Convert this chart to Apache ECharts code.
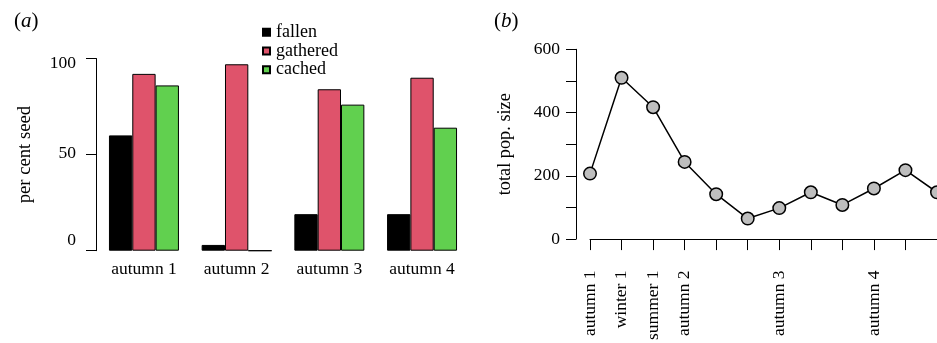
<!DOCTYPE html>
<html>
<head>
<meta charset="utf-8">
<script src="https://cdn.jsdelivr.net/npm/echarts@6/dist/echarts.min.js"></script>
<style>
  html, body { margin: 0; padding: 0; background: #fff; }
  #chart { width: 937px; height: 343px; }
</style>
</head>
<body>
<div id="chart"></div>
<script>
// panel (a): per cent seed per autumn
const seasons = ['autumn 1', 'autumn 2', 'autumn 3', 'autumn 4'];
const fallen = [60, 3, 19, 19];
const gathered = [92, 97, 84, 90];
const cached = [86, 0, 76, 64];

// panel (b): total population size
const timeLabels = ['autumn 1', 'winter 1', 'summer 1', 'autumn 2', '', '', 'autumn 3', '', '', 'autumn 4', '', ''];
const popSize = [207, 510, 417, 244, 142, 65, 98, 148, 108, 160, 218, 148];

const font = '"Liberation Serif", "Times New Roman", serif';
const fs = 17.5;   // tick labels
const fsName = 18.7; // axis titles

// the left tick labels sit a little off their ticks in the original
const leftLabelPad = { 0: [0, 0, 21, 0], 50: [0, 0, 3, 0], 100: [9, 0, 0, 0] };

const myChart = echarts.init(document.getElementById('chart'));

const option = {
  backgroundColor: '#fff',
  animation: false,
  textStyle: { fontFamily: font, color: '#000' },
  title: [
    {
      text: '({i|a})', left: 9, top: 6,
      textStyle: { fontFamily: font, fontSize: 21, fontWeight: 'normal', color: '#000',
        rich: { i: { fontFamily: font, fontSize: 21, fontStyle: 'italic', color: '#000' } } }
    },
    {
      text: '({i|b})', left: 489, top: 6,
      textStyle: { fontFamily: font, fontSize: 21, fontWeight: 'normal', color: '#000',
        rich: { i: { fontFamily: font, fontSize: 21, fontStyle: 'italic', color: '#000' } } }
    }
  ],
  legend: {
    orient: 'vertical',
    left: 257,
    top: 18,
    icon: 'rect',
    itemWidth: 7,
    itemHeight: 7,
    itemGap: 0,
    data: ['fallen', 'gathered', 'cached'],
    textStyle: { fontFamily: font, fontSize: 18, color: '#000', lineHeight: 18.7, padding: [0, 0, 0, 1] }
  },
  grid: [
    { left: 97.6, width: 370.8, top: 58.5, bottom: 92.3 },
    { left: 590, right: 0, top: 49.3, bottom: 100.7 }
  ],
  xAxis: [
    {
      gridIndex: 0,
      type: 'category',
      data: seasons,
      axisLine: { show: false },
      axisTick: { show: false },
      axisLabel: { color: '#000', fontFamily: font, fontSize: fs, margin: 10 }
    },
    {
      gridIndex: 1,
      type: 'category',
      data: timeLabels,
      boundaryGap: false,
      offset: 8.4,
      axisLine: { lineStyle: { color: '#000', width: 1 } },
      axisTick: { show: true, length: 11, alignWithLabel: true, interval: 0, lineStyle: { color: '#000' } },
      axisLabel: { color: '#000', fontFamily: font, fontSize: fs, rotate: 90, margin: 23, interval: 0 }
    }
  ],
  yAxis: [
    {
      gridIndex: 0,
      type: 'value',
      min: 0,
      max: 100,
      interval: 50,
      offset: 1.6,
      name: 'per cent seed',
      nameLocation: 'middle',
      nameRotate: 90,
      nameGap: 61,
      nameTextStyle: { fontFamily: font, fontSize: fsName, color: '#000' },
      axisLine: { show: true, lineStyle: { color: '#000' } },
      axisTick: { show: true, length: 10, lineStyle: { color: '#000' } },
      splitLine: { show: false },
      axisLabel: {
        margin: 20,
        fontFamily: font,
        fontSize: fs,
        color: '#000',
        formatter: v => '{v' + v + '|' + v + '}',
        rich: {
          v0: { fontFamily: font, fontSize: fs, color: '#000', padding: leftLabelPad[0] },
          v50: { fontFamily: font, fontSize: fs, color: '#000', padding: leftLabelPad[50] },
          v100: { fontFamily: font, fontSize: fs, color: '#000', padding: leftLabelPad[100] }
        }
      }
    },
    {
      gridIndex: 1,
      type: 'value',
      min: 0,
      max: 600,
      interval: 100,
      offset: 14,
      name: 'total pop. size',
      nameLocation: 'middle',
      nameRotate: 90,
      nameGap: 62,
      nameTextStyle: { fontFamily: font, fontSize: 18.3, color: '#000' },
      axisLine: { show: true, lineStyle: { color: '#000' } },
      axisTick: { show: true, length: 10, lineStyle: { color: '#000' } },
      splitLine: { show: false },
      axisLabel: {
        margin: 16,
        fontFamily: font,
        fontSize: fs,
        color: '#000',
        formatter: v => (v % 200 === 0 ? String(v) : '')
      }
    }
  ],
  series: [
    {
      name: 'fallen', type: 'bar', xAxisIndex: 0, yAxisIndex: 0,
      data: fallen, barGap: '0%', barCategoryGap: '24.5%',
      itemStyle: { color: '#000', borderColor: '#000', borderWidth: 1 }
    },
    {
      name: 'gathered', type: 'bar', xAxisIndex: 0, yAxisIndex: 0,
      data: gathered, barGap: '0%', barCategoryGap: '24.5%',
      itemStyle: { color: '#DF536B', borderColor: '#000', borderWidth: 1 }
    },
    {
      name: 'cached', type: 'bar', xAxisIndex: 0, yAxisIndex: 0,
      data: cached, barGap: '0%', barCategoryGap: '24.5%',
      itemStyle: { color: '#61D04F', borderColor: '#000', borderWidth: 1 }
    },
    {
      name: 'pop', type: 'line', xAxisIndex: 1, yAxisIndex: 1,
      data: popSize,
      symbol: 'circle',
      symbolSize: 12.5,
      lineStyle: { color: '#000', width: 1.5 },
      itemStyle: { color: '#BEBEBE', borderColor: '#000', borderWidth: 1.5 }
    }
  ]
};

myChart.setOption(option);
</script>
</body>
</html>
